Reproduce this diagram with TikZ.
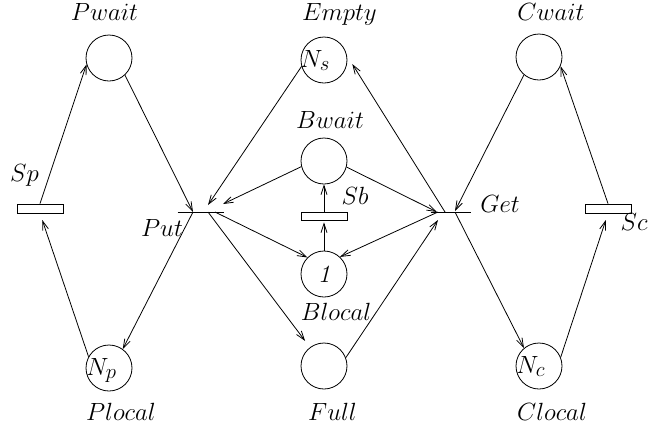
\documentclass[tikz,border=0pt]{standalone}
\usetikzlibrary{arrows.meta}
\begin{document}
\begin{tikzpicture}[x=1pt,y=-1pt,line width=0.8pt,
  place/.style={circle,draw,minimum size=46pt,inner sep=0pt},
  trans/.style={rectangle,draw,minimum width=46pt,minimum height=9pt,inner sep=0pt},
  tbar/.style={rectangle,minimum height=0pt,inner sep=0pt},
  lbl/.style={anchor=base,inner sep=0pt,font=\Huge},
  arc/.style={-{Straight Barb[length=9pt,width=6pt]}},
  ]
\useasboundingbox (0,0) rectangle (649,429);
% places
\node[place] (Pwait) at (109,58) {};
\node[place] (Empty) at (324,60) {};
\node[place] (Bwait) at (324,161) {};
\node[place] (Cwait) at (539,57) {};
\node[place] (Blocal) at (324,274) {\Huge\textit{1}};
\node[place] (Full) at (324,366) {};
\node[place] (Plocal) at (109,368) {};
\node[place] (Clocal) at (539,366) {};
% transitions
\node[trans] (Sp) at (40,208.5) {};
\node[trans] (Sc) at (608,208.5) {};
\node[trans,minimum height=8pt] (Sb) at (324,216) {};
\node[tbar,minimum width=46pt] (Put) at (201,212) {};
\node[tbar,minimum width=40pt] (Get) at (451,212) {};
\draw (Put.west) -- (Put.east);
\draw (Get.west) -- (Get.east);
% labels
\node[lbl] (lPwait) at (104.5,20) {$Pwait$};
\node[lbl] (lEmpty) at (339.5,20) {$Empty$};
\node[lbl] (lCwait) at (551,20) {$Cwait$};
\node[lbl] (lBwait) at (330,128) {$Bwait$};
\node[lbl] (lSb) at (355,204) {$Sb$};
\node[lbl] (lSp) at (24.5,181) {$Sp$};
\node[lbl,anchor=base east] (lSc) at (648,230) {$Sc$};
\node[lbl] (lPut) at (162,236) {$Put$};
\node[lbl] (lGet) at (500,212) {$Get$};
\node[lbl] (lBlocal) at (336,320) {$Blocal$};
\node[lbl] (lFull) at (332.5,420) {$Full$};
\node[lbl] (lPlocal) at (121,420) {$Plocal$};
\node[lbl] (lClocal) at (552,420) {$Clocal$};
\node[lbl,anchor=base west] (lNs) at (300,67) {$N_s$};
\node[lbl,anchor=base west] (lNp) at (86,375) {$N_p$};
\node[lbl,anchor=base west] (lNc) at (516,373) {$N_c$};
% arcs, producer
\draw[arc] (Sp.north) -- (Pwait.196);
\draw[arc] (Pwait.313) -- ([xshift=-8pt]Put.center);
\draw[arc] ([xshift=-8pt]Put.center) -- (Plocal.54);
\draw[arc,shorten >=7pt] (Plocal.151) -- (Sp.south);
% buffer
\draw[arc] (Empty.196) -- ([xshift=7pt,yshift=7pt]Put.center);
\draw[arc] (Bwait.194) -- ([xshift=22pt,yshift=8pt]Put.center);
\draw[arc,shorten >=8pt] ([xshift=7pt]Put.center) -- (Full);
\draw[arc] ([xshift=14pt]Put.center) -- (Blocal.135);
\draw[arc,shorten >=2pt] (Blocal.north) -- (Sb.south);
\draw[arc] (Sb.north) -- (Bwait.south);
\draw[arc] (Bwait.345) -- ([xshift=-14pt]Get.center);
\draw[arc,shorten >=10pt] ([xshift=-6pt]Get.center) -- (Empty.11);
\draw[arc] ([xshift=-13pt]Get.center) -- (Blocal.47);
\draw[arc] (Full.21) -- ([xshift=-13pt,yshift=-8pt]Get.center);
% consumer
\draw[arc] (Cwait.230) -- ([xshift=4pt,yshift=1pt]Get.center);
\draw[arc] ([xshift=4pt]Get.center) -- (Clocal.130);
\draw[arc,shorten >=7pt] (Clocal.22) -- (Sc.south);
\draw[arc] (Sc.north) -- (Cwait.337);
\end{tikzpicture}
\end{document}
